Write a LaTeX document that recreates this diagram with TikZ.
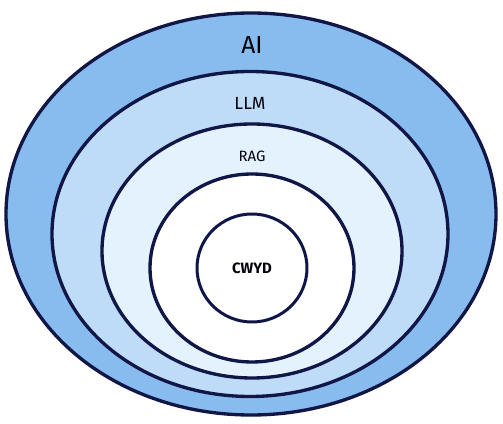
\documentclass[tikz,border=0pt]{standalone}
\usepackage{fontspec}
\setmainfont{Fira Sans}
\usepackage{tikz}
\usetikzlibrary{positioning}
\definecolor{inkblue}{RGB}{16,22,70}
\definecolor{AIcolor}{RGB}{137,188,238}
\definecolor{LLMcolor}{RGB}{190,220,248}
\definecolor{RAGcolor}{RGB}{228,242,253}
\tikzset{ring/.style={line width=1.9pt, draw=inkblue},
         lbl/.style={text=black!85!inkblue, inner sep=1pt}}

\begin{document}
\begin{tikzpicture}
    \useasboundingbox (0,0) rectangle (10.06,8.48);
    % rings, outside in
    \draw[ring, fill=AIcolor] (5.02,4.20) circle [x radius=4.90, y radius=4.02];
    \draw[ring, fill=LLMcolor] (5.00,3.80) circle [x radius=3.96, y radius=3.25];
    \draw[ring, fill=RAGcolor] (5.04,3.46) circle [x radius=3.00, y radius=2.54];
    \draw[ring, fill=white] (5.04,3.12) circle [x radius=2.04, y radius=1.88];
    \draw[ring, line width=1.7pt, fill=white] (5.04,3.12) circle [x radius=1.10, y radius=1.08];

    \node[lbl] (ai) at (5.04,7.58) {\fontsize{14}{16}\selectfont AI};
    \node[lbl] (llm) at (5.00,6.42) {\fontsize{10}{12}\selectfont LLM};
    \node[lbl] (rag) at (5.04,5.36) {\fontsize{8.5}{10}\selectfont RAG};
    \node[lbl] (cwyd) at (5.04,3.12) {\fontsize{8.5}{10}\selectfont\bfseries CWYD};
\end{tikzpicture}
\end{document}
